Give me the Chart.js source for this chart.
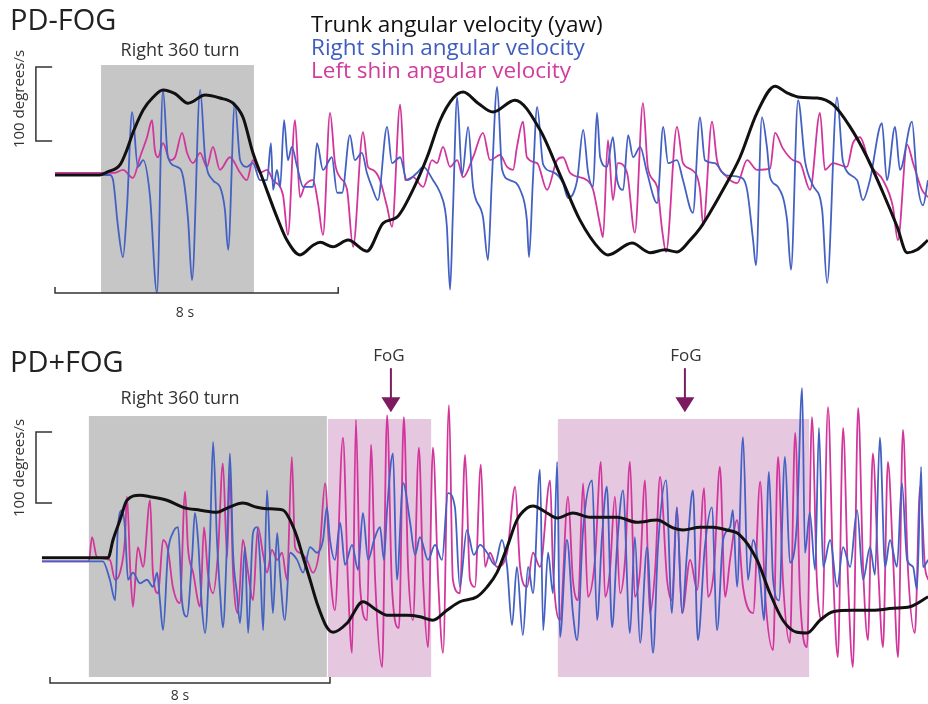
<!DOCTYPE html>
<html>
<head>
<meta charset="utf-8">
<script src="https://cdn.jsdelivr.net/npm/chart.js@4.4.1/dist/chart.umd.min.js"></script>
<style>
  html, body { margin: 0; padding: 0; background: #fff; }
  #wrap { position: relative; width: 928px; height: 704px; overflow: hidden; font-family: "Open Sans", sans-serif; }
  canvas { position: absolute; left: 0; }
  #topChart { top: 0; }
  #bottomChart { top: 330px; }
  .lbl { position: absolute; white-space: nowrap; line-height: 1; color: #222; z-index: 2; }
  .c { transform: translate(-50%, -50%); }
  .rot { transform: translate(-50%, -50%) rotate(-90deg); }
</style>
</head>
<body>
<div id="wrap">
  <canvas id="topChart" width="928" height="330"></canvas>
  <canvas id="bottomChart" width="928" height="374"></canvas>

  <div class="lbl" style="left:10px; top:4px; font-size:29px;">PD-FOG</div>
  <div class="lbl" style="left:311px; top:13px; font-size:22.5px; color:#111;">Trunk angular velocity (yaw)</div>
  <div class="lbl" style="left:311px; top:36px; font-size:22.5px; color:#3f5cc0;">Right shin angular velocity</div>
  <div class="lbl" style="left:311px; top:59px; font-size:22.5px; color:#d23c9c;">Left shin angular velocity</div>
  <div class="lbl c" style="left:180px; top:49px; font-size:18px; color:#333;">Right 360 turn</div>
  <div class="lbl rot" style="left:18px; top:99px; font-size:15px; color:#333;">100 degrees/s</div>
  <div class="lbl c" style="left:185px; top:312px; font-size:14px; color:#333;">8 s</div>

  <div class="lbl" style="left:10px; top:346px; font-size:29px;">PD+FOG</div>
  <div class="lbl c" style="left:180px; top:397px; font-size:18px; color:#333;">Right 360 turn</div>
  <div class="lbl rot" style="left:18px; top:468px; font-size:15px; color:#333;">100 degrees/s</div>
  <div class="lbl c" style="left:180px; top:695px; font-size:14px; color:#333;">8 s</div>
  <div class="lbl c" style="left:389px; top:354px; font-size:17px; color:#333;">FoG</div>
  <div class="lbl c" style="left:686px; top:354px; font-size:17px; color:#333;">FoG</div>
</div>

<script>
// ---- PD-FOG (time s, angular velocity deg/s) ----
var topTrunk = [[0,0],[1.27,0],[1.47,4],[1.84,14],[2.03,34],[2.20,57],[2.49,88],[2.77,105],[3.05,115],[3.39,110],[3.76,97],[4.24,108],[4.66,104],[5.03,97],[5.31,78],[5.59,30],[5.88,-7],[6.27,-57],[6.55,-88],[6.92,-108],[7.29,-95],[7.49,-91],[7.85,-97],[8.28,-88],[8.81,-103],[9.27,-65],[9.66,-57],[10.11,-20],[10.51,24],[10.88,74],[11.25,104],[11.53,112],[11.95,97],[12.37,85],[12.99,101],[13.70,61],[14.27,0],[14.83,-61],[15.40,-101],[15.62,-108],[16.30,-92],[16.81,-105],[17.23,-101],[17.57,-104],[17.94,-88],[18.22,-72],[18.50,-51],[18.87,-20],[19.35,24],[19.83,84],[20.34,120],[20.68,111],[21.05,105],[21.53,104],[21.98,95],[22.46,65],[22.94,24],[23.39,-24],[23.79,-70],[24.07,-105],[24.35,-101],[24.66,-88]];

var topRight = [[0,0],[1.55,0],[1.64,-7],[1.78,-70],[1.92,-111],[2.03,-47],[2.18,85],[2.34,11],[2.49,20],[2.68,-27],[2.88,-159],[3.05,115],[3.19,24],[3.45,11],[3.62,-3],[3.76,-61],[3.87,-142],[4.10,115],[4.24,24],[4.46,-7],[4.66,-16],[4.80,-47],[4.89,-101],[5.08,97],[5.23,20],[5.42,11],[5.59,16],[5.79,-7],[5.99,-7],[6.10,43],[6.16,-20],[6.27,7],[6.36,-16],[6.47,74],[6.58,20],[6.69,38],[6.84,11],[7.01,-16],[7.29,-16],[7.40,43],[7.57,7],[7.82,24],[7.97,-24],[8.11,-24],[8.33,54],[8.47,20],[8.67,30],[8.81,3],[8.95,-16],[9.12,-34],[9.38,65],[9.52,16],[9.75,24],[9.94,-7],[10.23,3],[10.40,11],[10.68,-7],[10.88,-24],[11.02,-47],[11.07,-70],[11.16,-155],[11.24,-51],[11.36,105],[11.50,0],[11.67,65],[11.81,-16],[12.09,-57],[12.23,-115],[12.34,-7],[12.49,119],[12.63,7],[12.85,-7],[13.14,-20],[13.33,-61],[13.39,-111],[13.50,-7],[13.62,92],[13.79,14],[14.07,4],[14.35,-11],[14.49,-31],[14.75,-7],[14.92,61],[15.06,3],[15.20,-16],[15.31,84],[15.40,24],[15.59,11],[15.76,51],[15.88,-7],[16.05,-20],[16.19,54],[16.33,24],[16.53,38],[16.72,4],[17.01,-38],[17.18,65],[17.32,16],[17.57,20],[17.74,-7],[18.02,-51],[18.22,78],[18.36,20],[18.64,16],[18.93,0],[19.35,-3],[19.55,-20],[19.72,-88],[19.80,-122],[19.97,78],[20.11,38],[20.20,-3],[20.42,-16],[20.68,-61],[20.79,-128],[20.99,101],[21.19,18],[21.41,-14],[21.67,-47],[21.81,-146],[22.09,105],[22.26,18],[22.66,-7],[22.82,-34],[23.02,-7],[23.36,70],[23.50,-7],[23.73,65],[23.87,7],[24.21,72],[24.35,-7],[24.52,-41],[24.66,-7]];

var topLeft = [[0,3],[1.69,3],[1.92,7],[2.20,-4],[2.40,24],[2.60,51],[2.74,74],[2.82,34],[2.91,24],[3.05,43],[3.25,20],[3.39,24],[3.59,57],[3.73,30],[3.90,16],[4.10,30],[4.29,11],[4.46,38],[4.66,7],[4.94,24],[5.23,3],[5.42,-7],[5.59,20],[5.79,3],[5.99,7],[6.16,-7],[6.44,-27],[6.58,-81],[6.78,74],[6.92,-30],[7.06,-14],[7.29,-7],[7.43,-38],[7.57,-81],[7.77,84],[7.91,16],[8.05,-3],[8.25,-20],[8.42,-97],[8.70,58],[8.84,11],[8.98,7],[9.18,-7],[9.38,-43],[9.52,-70],[9.75,95],[9.89,-7],[10.11,-3],[10.40,-16],[10.65,20],[10.79,16],[10.96,38],[11.16,11],[11.36,20],[11.53,-3],[11.81,24],[12.09,57],[12.29,20],[12.57,27],[12.77,11],[12.94,7],[13.05,38],[13.22,72],[13.33,24],[13.62,16],[13.90,-20],[14.18,20],[14.35,24],[14.55,3],[15.03,-7],[15.20,-20],[15.40,-68],[15.48,-84],[15.62,47],[15.76,-34],[15.90,16],[16.16,3],[16.38,-78],[16.61,97],[16.75,9],[17.01,-16],[17.15,-74],[17.26,-104],[17.57,65],[17.74,16],[17.99,7],[18.22,-20],[18.31,-68],[18.56,72],[18.70,20],[18.93,0],[19.27,-11],[19.55,20],[19.83,7],[20.20,9],[20.34,57],[20.56,36],[20.85,20],[21.05,16],[21.33,-20],[21.61,84],[21.75,7],[21.98,16],[22.37,11],[22.54,43],[22.74,51],[23.02,14],[23.39,-7],[23.67,-43],[23.81,-88],[24.07,41],[24.24,16],[24.49,-20],[24.66,-30]];

// ---- PD+FOG ----
var botTrunk = [[-0.23,6],[1.66,6],[1.80,31],[2.00,59],[2.20,87],[2.57,94],[2.86,92],[3.34,87],[3.80,77],[4.29,73],[4.77,70],[5.06,76],[5.51,83],[5.91,77],[6.20,75],[6.66,73],[6.86,59],[7.06,35],[7.23,7],[7.43,-25],[7.63,-58],[7.91,-92],[8.09,-99],[8.49,-86],[8.94,-56],[9.34,-68],[9.63,-75],[10.20,-75],[10.57,-77],[10.94,-82],[11.34,-68],[11.71,-56],[12.20,-49],[12.49,-35],[12.77,-15],[13.06,21],[13.34,59],[13.63,76],[13.80,79],[14.20,69],[14.49,62],[14.94,69],[15.43,63],[16.20,63],[16.77,56],[17.34,59],[17.80,48],[18.09,45],[18.57,49],[18.94,49],[19.34,45],[19.71,38],[20.20,3],[20.57,-44],[20.94,-82],[21.34,-99],[21.63,-100],[22.00,-82],[22.37,-70],[22.94,-68],[23.51,-68],[24.09,-65],[24.57,-63],[25.09,-49]];

var botRight = [[-0.23,1],[1.51,1],[1.71,-25],[1.86,-54],[1.94,49],[2.06,73],[2.14,49],[2.23,-25],[2.37,-15],[2.57,-30],[2.77,-25],[2.94,-35],[3.06,-15],[3.14,-54],[3.23,-96],[3.37,13],[3.51,41],[3.66,49],[3.77,-54],[3.91,-77],[4.06,7],[4.14,69],[4.23,31],[4.34,-63],[4.43,-100],[4.57,31],[4.66,169],[4.77,31],[4.86,-44],[4.94,-92],[5.06,31],[5.14,153],[5.23,13],[5.34,-44],[5.43,-86],[5.57,21],[5.66,-100],[5.80,41],[5.91,49],[6.00,3],[6.09,-96],[6.20,101],[6.29,3],[6.37,-72],[6.49,41],[6.57,-15],[6.71,-82],[6.86,13],[7.06,3],[7.23,-15],[7.43,21],[7.63,13],[7.80,31],[7.91,77],[8.00,31],[8.14,3],[8.29,55],[8.43,-4],[8.63,24],[8.80,-11],[8.94,69],[9.09,3],[9.26,31],[9.43,49],[9.54,3],[9.63,73],[9.80,153],[9.91,-25],[10.09,111],[10.29,55],[10.43,10],[10.57,35],[10.80,3],[11.00,24],[11.20,3],[11.37,97],[11.57,77],[11.71,-35],[11.91,45],[12.11,10],[12.29,24],[12.49,13],[12.71,-4],[12.91,31],[13.06,-7],[13.20,-89],[13.34,-7],[13.51,-103],[13.66,-7],[13.80,-44],[14.00,130],[14.09,-96],[14.23,13],[14.37,-44],[14.49,141],[14.57,-106],[14.77,31],[14.94,-72],[15.06,-110],[15.23,45],[15.49,115],[15.63,-82],[15.77,35],[15.91,106],[16.06,-92],[16.20,21],[16.37,101],[16.57,-100],[16.71,35],[16.86,-114],[17.06,21],[17.23,-128],[17.37,21],[17.60,115],[17.77,-72],[17.91,77],[18.06,-72],[18.20,13],[18.37,101],[18.51,-110],[18.71,21],[18.91,77],[19.06,-96],[19.23,31],[19.43,49],[19.51,73],[19.63,-35],[19.80,176],[19.94,-25],[20.09,31],[20.29,-25],[20.40,-82],[20.54,127],[20.66,-25],[20.83,-54],[21.00,148],[21.14,-1],[21.34,55],[21.49,245],[21.57,13],[21.71,69],[21.86,-11],[21.97,189],[22.09,-7],[22.29,31],[22.49,-35],[22.66,21],[22.86,-7],[23.06,73],[23.23,-25],[23.43,21],[23.57,-18],[23.71,175],[23.86,-7],[24.00,31],[24.20,-7],[24.34,111],[24.49,3],[24.66,-7],[24.77,-39],[24.89,134],[24.94,-7],[25.09,3]];

var botLeft = [[-0.23,1],[1.11,1],[1.20,35],[1.34,7],[1.71,3],[1.86,-25],[2.00,-15],[2.14,31],[2.20,92],[2.29,-7],[2.37,-63],[2.51,21],[2.66,-7],[2.86,87],[2.94,-15],[3.09,-44],[3.23,31],[3.37,17],[3.51,-35],[3.71,-58],[3.86,99],[3.94,21],[4.09,-15],[4.29,-63],[4.40,49],[4.51,-15],[4.66,-44],[4.80,13],[4.94,139],[5.06,7],[5.14,125],[5.23,-15],[5.37,-72],[5.51,31],[5.66,-15],[5.80,-54],[5.94,49],[6.09,10],[6.20,-15],[6.34,17],[6.49,3],[6.63,13],[6.77,-25],[6.91,148],[7.00,21],[7.14,13],[7.34,3],[7.51,-15],[7.71,21],[7.86,111],[8.00,-11],[8.14,-68],[8.37,175],[8.51,-25],[8.63,-128],[8.74,200],[8.86,-35],[9.06,-82],[9.17,165],[9.29,-25],[9.49,-148],[9.63,207],[9.77,-35],[9.97,-93],[10.11,204],[10.23,-7],[10.37,-82],[10.54,161],[10.66,-25],[10.80,-120],[10.94,161],[11.09,-25],[11.23,-128],[11.40,221],[11.51,-25],[11.71,-44],[11.86,151],[12.00,-25],[12.14,-35],[12.31,137],[12.43,-7],[12.57,13],[12.77,-7],[13.06,13],[13.29,106],[13.43,-7],[13.63,-35],[13.80,13],[14.00,-7],[14.29,115],[14.37,-7],[14.57,-82],[14.80,92],[14.94,-25],[15.09,-54],[15.23,111],[15.37,-49],[15.57,3],[15.74,141],[15.86,-49],[16.00,-11],[16.14,92],[16.29,-44],[16.43,3],[16.57,141],[16.71,-49],[16.86,-11],[17.00,115],[17.14,-72],[17.29,-11],[17.43,120],[17.63,-25],[17.77,-54],[17.91,77],[18.06,-72],[18.29,3],[18.49,-39],[18.69,104],[18.80,-49],[18.97,-11],[19.14,134],[19.29,-49],[19.43,3],[19.63,59],[19.80,-35],[20.09,-72],[20.29,113],[20.43,-44],[20.66,-124],[20.80,148],[20.94,-25],[21.14,-114],[21.29,182],[21.43,-49],[21.63,-120],[21.77,204],[21.91,-25],[22.06,-82],[22.23,218],[22.37,-7],[22.51,-134],[22.66,189],[22.80,-25],[22.94,-148],[23.09,217],[23.23,-7],[23.37,-110],[23.51,153],[23.66,-7],[23.80,-120],[23.94,141],[24.09,3],[24.23,-134],[24.37,186],[24.51,-7],[24.71,-100],[24.86,106],[25.00,-7],[25.09,-25]];

// annotation windows (s)
var topTurn = [1.30, 5.62];
var botTurn = [1.11, 7.91];
var fogWindows = [[7.94, 10.89], [14.51, 21.69]];
var fogArrows = [9.74, 18.14];

var BLACK = '#111111', BLUE = '#4361c2', MAGENTA = '#d2359b';
var GRAY = '#c6c6c6', PINK = '#e5c7e0', ARROW = '#7d1b5f';

var decor = {
  id: 'decor',
  beforeDatasetsDraw: function (chart, args, o) {
    var ctx = chart.ctx, x = chart.scales.x, y = chart.scales.y;
    ctx.save();
    o.boxes.forEach(function (b) {
      var x0 = x.getPixelForValue(b.t[0]), x1 = x.getPixelForValue(b.t[1]);
      var y0 = y.getPixelForValue(b.v[1]), y1 = y.getPixelForValue(b.v[0]);
      ctx.fillStyle = b.color;
      ctx.fillRect(x0, y0, x1 - x0, y1 - y0);
    });
    ctx.restore();
  },
  afterDatasetsDraw: function (chart, args, o) {
    var ctx = chart.ctx, x = chart.scales.x, y = chart.scales.y;
    ctx.save();
    ctx.strokeStyle = '#333';
    ctx.lineWidth = 1.5;
    // 8 s bar
    var yb = y.getPixelForValue(o.timeBar.v), xa = x.getPixelForValue(0), xb = x.getPixelForValue(8);
    ctx.beginPath();
    ctx.moveTo(xa, yb - 6); ctx.lineTo(xa, yb); ctx.lineTo(xb, yb); ctx.lineTo(xb, yb - 6);
    ctx.stroke();
    // 100 deg/s bracket
    var xv = x.getPixelForValue(o.ampBar.t), xt = x.getPixelForValue(o.ampBar.tick);
    var ya = y.getPixelForValue(o.ampBar.v0 + 100), yc = y.getPixelForValue(o.ampBar.v0);
    ctx.beginPath();
    ctx.moveTo(xt, ya); ctx.lineTo(xv, ya); ctx.lineTo(xv, yc); ctx.lineTo(xt, yc);
    ctx.stroke();
    // FoG arrows
    (o.arrows || []).forEach(function (t) {
      var ax = x.getPixelForValue(t);
      var top = y.getPixelForValue(o.arrowV[0]), mid = y.getPixelForValue(o.arrowV[1]), tip = y.getPixelForValue(o.arrowV[2]);
      ctx.strokeStyle = ARROW; ctx.fillStyle = ARROW; ctx.lineWidth = 2;
      ctx.beginPath(); ctx.moveTo(ax, top); ctx.lineTo(ax, mid + 1); ctx.stroke();
      ctx.beginPath(); ctx.moveTo(ax - 9.5, mid); ctx.lineTo(ax + 9.5, mid); ctx.lineTo(ax, tip); ctx.closePath(); ctx.fill();
    });
    ctx.restore();
  }
};

function series(data, color, width) {
  return {
    data: data, borderColor: color, borderWidth: width, pointRadius: 0,
    fill: false, cubicInterpolationMode: 'monotone'
  };
}

function makeChart(id, sets, xr, yr, deco) {
  return new Chart(document.getElementById(id).getContext('2d'), {
    type: 'line',
    data: { datasets: sets },
    options: {
      responsive: false, animation: false,
      layout: { padding: 0 },
      plugins: { legend: { display: false }, tooltip: { enabled: false }, decor: deco },
      scales: {
        x: { type: 'linear', min: xr[0], max: xr[1], display: false },
        y: { type: 'linear', min: yr[0], max: yr[1], display: false }
      }
    },
    plugins: [decor]
  });
}

makeChart('topChart',
  [series(topTrunk, BLACK, 3), series(topRight, BLUE, 1.8), series(topLeft, MAGENTA, 1.8)],
  [-1.554, 24.661], [-209.46, 236.49],
  {
    boxes: [{ t: topTurn, v: [-159.5, 148.6], color: GRAY }],
    timeBar: { v: -159.5 },
    ampBar: { t: -0.54, tick: -0.08, v0: 46 }
  });

makeChart('bottomChart',
  [series(botTrunk, BLACK, 3), series(botRight, BLUE, 1.8), series(botLeft, MAGENTA, 1.8)],
  [-1.4286, 25.0857], [-200, 326.76],
  {
    boxes: [{ t: botTurn, v: [-162, 205.6], color: GRAY },
            { t: fogWindows[0], v: [-162, 201.4], color: PINK },
            { t: fogWindows[1], v: [-162, 201.4], color: PINK }],
    timeBar: { v: -170.4 },
    ampBar: { t: -0.4, tick: 0.06, v0: 83 },
    arrows: fogArrows,
    arrowV: [273, 232, 211]
  });
</script>
</body>
</html>
